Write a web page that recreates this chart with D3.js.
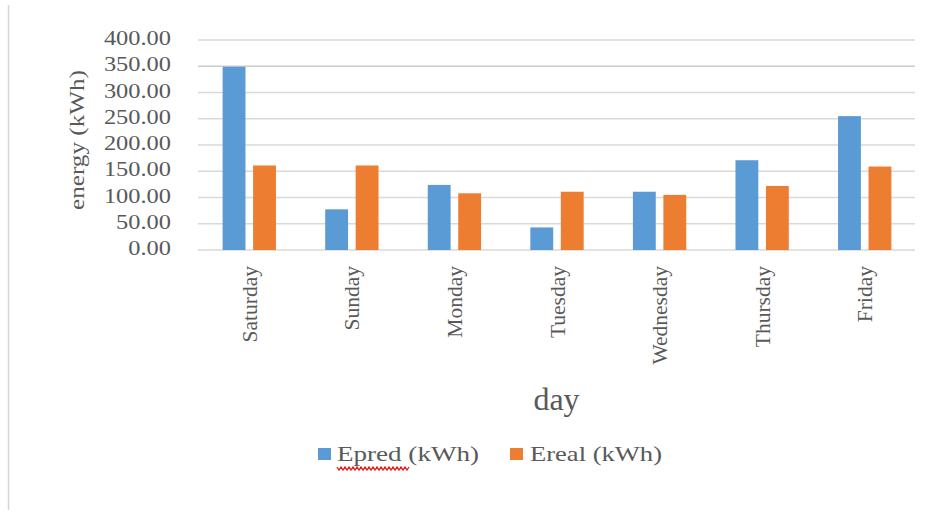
<!DOCTYPE html>
<html>
<head>
<meta charset="utf-8">
<script src="https://cdn.jsdelivr.net/npm/d3@7/dist/d3.min.js"></script>
<style>
  html, body { margin: 0; padding: 0; background: #ffffff; }
  svg { display: block; }
  text { font-family: "Liberation Serif", "Times New Roman", serif; fill: #595959; }
</style>
</head>
<body>
<svg id="chart" width="948" height="515"></svg>
<script>
const days = ["Saturday", "Sunday", "Monday", "Tuesday", "Wednesday", "Thursday", "Friday"];
const seriesNames = ["Epred (kWh)", "Ereal (kWh)"];
const epred = [349, 77.5, 124, 43, 111, 171, 255];
const ereal = [161, 161, 108, 111, 105, 122, 159];
const yTicks = [0, 50, 100, 150, 200, 250, 300, 350, 400];
const colors = ["#5b9bd5", "#ed7d31"];

(function () {
const svg = d3.select("#chart");
const pLeft = 198, pRight = 916, pTop = 40, pBottom = 250;

// outer frame line at left
svg.append("line").attr("x1", 8.5).attr("x2", 8.5).attr("y1", 5).attr("y2", 510)
  .attr("stroke", "#d6d6d6").attr("stroke-width", 1.5);

const y = d3.scaleLinear().domain([0, 400]).range([pBottom, pTop]);
const x0 = d3.scaleBand().domain(days).range([pLeft, pRight]).paddingInner(0).paddingOuter(0);
const bw = x0.bandwidth();
const x1 = d3.scaleBand().domain(seriesNames).range([bw * 0.24, bw * 0.76]).paddingInner(0.25).paddingOuter(0);

// gridlines
svg.append("g").selectAll("line").data(yTicks).join("line")
  .attr("x1", pLeft).attr("x2", 915)
  .attr("y1", d => y(d)).attr("y2", d => y(d))
  .attr("stroke", d => d === 350 ? "#cccccc" : "#d9d9d9").attr("stroke-width", 1.6);

// y tick labels (horizontally widened like the reference)
svg.append("g").selectAll("text").data(yTicks).join("text")
  .attr("transform", d => `translate(171,${y(d) + 5}) scale(1.22,1)`)
  .attr("text-anchor", "end")
  .attr("font-size", 20)
  .text(d => d3.format(".2f")(d));

// bars
const data = days.map((d, i) => ({ day: d, values: [epred[i], ereal[i]] }));
const groups = svg.append("g").selectAll("g").data(data).join("g")
  .attr("transform", d => `translate(${x0(d.day)},0)`);
groups.selectAll("rect").data(d => d.values.map((v, k) => ({ k, v }))).join("rect")
  .attr("x", d => x1(seriesNames[d.k]))
  .attr("width", x1.bandwidth())
  .attr("y", d => y(d.v))
  .attr("height", d => y(0) - y(d.v))
  .attr("fill", d => colors[d.k]);

// x tick labels (rotated)
svg.append("g").selectAll("text").data(days).join("text")
  .attr("transform", d => `translate(${x0(d) + bw / 2},266) rotate(-90)`)
  .attr("text-anchor", "end")
  .attr("dy", "0.35em")
  .attr("font-size", 21.5)
  .text(d => d);

// y axis title
svg.append("text")
  .attr("transform", "translate(77,140) rotate(-90)")
  .attr("text-anchor", "middle")
  .attr("dy", "0.35em")
  .attr("font-size", 20)
  .attr("textLength", 140).attr("lengthAdjust", "spacingAndGlyphs")
  .text("energy (kWh)");

// x axis title
svg.append("text")
  .attr("x", (pLeft + 915) / 2).attr("y", 410)
  .attr("text-anchor", "middle")
  .attr("font-size", 32)
  .text("day");

// legend
const legendItems = [
  { name: seriesNames[0], color: colors[0], sx: 318, tx: 337, tl: 142 },
  { name: seriesNames[1], color: colors[1], sx: 510, tx: 530, tl: 132 }
];
const lg = svg.append("g");
legendItems.forEach(it => {
  lg.append("rect").attr("x", it.sx).attr("y", 448).attr("width", 13).attr("height", 12).attr("fill", it.color);
  lg.append("text").attr("x", it.tx).attr("y", 461)
    .attr("font-size", 21)
    .attr("textLength", it.tl).attr("lengthAdjust", "spacingAndGlyphs")
    .text(it.name);
});
// spell-check squiggle under "Epred"
let sq = "M337,467";
for (let xx = 337; xx < 407; xx += 4) sq += ` L${xx + 2},470 L${xx + 4},467`;
lg.append("path").attr("d", sq).attr("fill", "none").attr("stroke", "#e02020").attr("stroke-width", 1.3);
})();
</script>
</body>
</html>
